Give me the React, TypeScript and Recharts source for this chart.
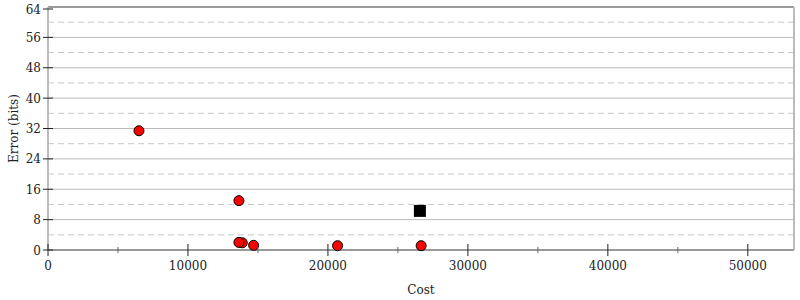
import { ScatterChart, Scatter, XAxis, YAxis, ReferenceLine, Label } from 'recharts';

const costs = [6500, 13880, 13640, 13640, 14690, 20690, 26660];
const errors = [31.4, 1.9, 2.0, 13.0, 1.24, 1.13, 1.13];
const refCost = [26570];
const refError = [10.3];

const xTicks = [0, 5000, 10000, 15000, 20000, 25000, 30000, 35000, 40000, 45000, 50000];
const yTicks = [0, 4, 8, 12, 16, 20, 24, 28, 32, 36, 40, 44, 48, 52, 56, 60, 64];
const yMajor = [8, 16, 24, 32, 40, 48, 56];
const yMinor = [4, 12, 20, 28, 36, 44, 52, 60];

const points = costs.map((c, i) => ({ cost: c, error: errors[i] }));
const refPoints = refCost.map((c, i) => ({ cost: c, error: refError[i] }));

const FONT = 'DejaVu Serif, serif';

function XTick({ x, y, payload }: any) {
  const major = payload.value % 10000 === 0;
  const h = major ? 6 : 3;
  return (
    <g>
      <line x1={x} x2={x} y1={y - h} y2={y + h} stroke={major ? '#222' : '#666'} strokeWidth={1} />
      {major && (
        <text x={x} y={y + 20} textAnchor="middle" fontSize={12} fontFamily={FONT} fill="#222">
          {payload.value}
        </text>
      )}
    </g>
  );
}

function YTick({ x, y, payload }: any) {
  const major = payload.value % 8 === 0;
  const w = major ? 5 : 3;
  return (
    <g>
      <line x1={x - w} x2={x + w} y1={y} y2={y} stroke={major ? '#222' : '#666'} strokeWidth={1} />
      {major && (
        <text x={x - 7} y={y + 4.5} textAnchor="end" fontSize={12} fontFamily={FONT} fill="#222">
          {payload.value}
        </text>
      )}
    </g>
  );
}

function YTickRight({ x, y, payload }: any) {
  const major = payload.value % 8 === 0;
  const w = major ? 6 : 3;
  return (
    <line x1={x - w} x2={x + w} y1={y} y2={y} stroke={major ? '#333' : '#666'} strokeWidth={1} />
  );
}

const circleShape = (p: any) => (
  <circle cx={p.cx} cy={p.cy} r={5} fill="#ff0000" stroke="#000" strokeWidth={1} />
);
const squareShape = (p: any) => (
  <rect x={p.cx - 6} y={p.cy - 6} width={12} height={12} fill="#000" />
);

export default function App() {
  return (
    <div style={{ position: 'absolute', left: 0, top: 0 }}>
      <ScatterChart width={800} height={300} margin={{ top: 7, right: 0, bottom: 0, left: 0 }}>
        {yMinor.map((v) => (
          <ReferenceLine key={'n' + v} yAxisId="left" y={v} stroke="#c8c8c8" strokeDasharray="6 4" />
        ))}
        {yMajor.map((v) => (
          <ReferenceLine key={'m' + v} yAxisId="left" y={v} stroke="#bbb" />
        ))}
        <ReferenceLine yAxisId="left" y={64} stroke="#999" strokeWidth={2} />
        <XAxis
          type="number"
          dataKey="cost"
          domain={[0, 53300]}
          ticks={xTicks}
          allowDataOverflow
          height={50}
          tickSize={0}
          tickMargin={0}
          tickLine={false}
          tick={<XTick />}
          axisLine={{ stroke: '#999', strokeWidth: 2 }}
        >
          <Label
            value="Cost"
            position="insideBottom"
            offset={6}
            style={{ fontSize: 12, fontFamily: FONT, fill: '#222' }}
          />
        </XAxis>
        <YAxis
          yAxisId="left"
          type="number"
          dataKey="error"
          domain={[0, 64]}
          ticks={yTicks}
          width={48}
          tickSize={0}
          tickMargin={0}
          tickLine={false}
          tick={<YTick />}
          axisLine={{ stroke: '#bbb', strokeWidth: 2 }}
        >
          <Label
            value="Error (bits)"
            angle={-90}
            position="insideLeft"
            offset={14}
            style={{ fontSize: 12, fontFamily: FONT, fill: '#222', textAnchor: 'middle' }}
          />
        </YAxis>
        <YAxis
          yAxisId="right"
          orientation="right"
          type="number"
          domain={[0, 64]}
          ticks={yTicks}
          width={6}
          tickSize={0}
          tickMargin={0}
          tickLine={false}
          tick={<YTickRight />}
          axisLine={{ stroke: '#bbb', strokeWidth: 2 }}
        />
        <Scatter yAxisId="left" data={refPoints} shape={squareShape} isAnimationActive={false} />
        <Scatter yAxisId="left" data={points} shape={circleShape} isAnimationActive={false} />
      </ScatterChart>
    </div>
  );
}
